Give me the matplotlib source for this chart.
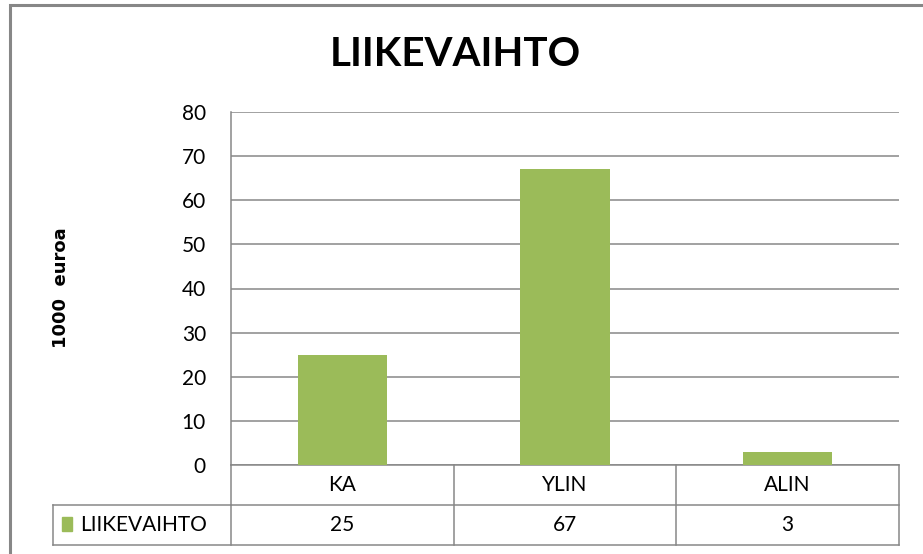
import numpy as np
import matplotlib
matplotlib.use("Agg")
import matplotlib.pyplot as plt
from matplotlib.patches import Rectangle
from matplotlib.transforms import blended_transform_factory

# Data
categories = ["KA", "YLIN", "ALIN"]
values = [25, 67, 3]
series_name = "LIIKEVAIHTO"
yticks = [0, 10, 20, 30, 40, 50, 60, 70, 80]

GREEN = "#9BBB59"
LINE = "#878787"
plt.rcParams["font.family"] = ["Lato", "DejaVu Sans"]

W, H = 923, 554
fig = plt.figure(figsize=(W / 100, H / 100), dpi=100)

# outer chart border (cut off at right/bottom like the screenshot)
fig.patches.append(Rectangle((10 / W, -0.1), 1.2, 1 - 5 / H + 0.1, transform=fig.transFigure,
                             fill=False, edgecolor=LINE, lw=2.2))

L, R, T, B = 231, 899, 112, 465
ax = fig.add_axes([L / W, 1 - B / H, (R - L) / W, (B - T) / H])

x = np.arange(len(categories))
ax.bar(x, values, width=0.4, color=GREEN, zorder=3)
ax.set_xlim(-0.5, len(categories) - 0.5)
ax.set_ylim(0, 80)
ax.set_yticks(yticks)
ax.set_yticklabels([str(t) for t in yticks], fontsize=15)
ax.set_xticks([])
ax.tick_params(axis="y", length=0, pad=18)
ax.yaxis.grid(True, color=LINE, lw=1.1)
ax.set_axisbelow(True)
for s in ["top", "right"]:
    ax.spines[s].set_visible(False)
ax.spines["left"].set_color(LINE)
ax.spines["bottom"].set_color(LINE)
ax.spines["left"].set_linewidth(1.1)
ax.spines["bottom"].set_linewidth(1.1)

ax.set_ylabel("1000  euroa", fontsize=13, fontweight="bold", family="DejaVu Sans")
ax.yaxis.set_label_coords((70 - L) / (R - L), (B - 288) / (B - T))

fig.text(455 / W, 1 - 55 / H, "LIIKEVAIHTO", ha="center", va="center",
         fontsize=29, fontweight="bold")

# data table below the axis
tr = blended_transform_factory(ax.transData, ax.transAxes)
rh = 40 / (B - T)
left_data = -0.5 - (L - 53) / ((R - L) / len(categories))
kw = dict(color=LINE, lw=1.1, clip_on=False, transform=tr)
# horizontal lines
ax.plot([-0.5, len(categories) - 0.5], [-rh, -rh], **kw)
ax.plot([left_data, -0.5], [-rh, -rh], **kw)
ax.plot([left_data, len(categories) - 0.5], [-2 * rh, -2 * rh], **kw)
# vertical lines
for xb in np.arange(len(categories) + 1) - 0.5:
    ax.plot([xb, xb], [0, -2 * rh], **kw)
ax.plot([left_data, left_data], [-rh, -2 * rh], **kw)

for i, (c, v) in enumerate(zip(categories, values)):
    ax.text(i, -0.5 * rh, c, ha="center", va="center", fontsize=15, transform=tr)
    ax.text(i, -1.5 * rh, str(v), ha="center", va="center", fontsize=15, transform=tr)

# legend key in table
fig.patches.append(Rectangle((62 / W, 1 - 531 / H), 10 / W, 14 / H,
                             transform=fig.transFigure, color=GREEN))
fig.text(80 / W, 1 - 525 / H, series_name, ha="left", va="center", fontsize=15)

fig.savefig("out.png", dpi=100)
